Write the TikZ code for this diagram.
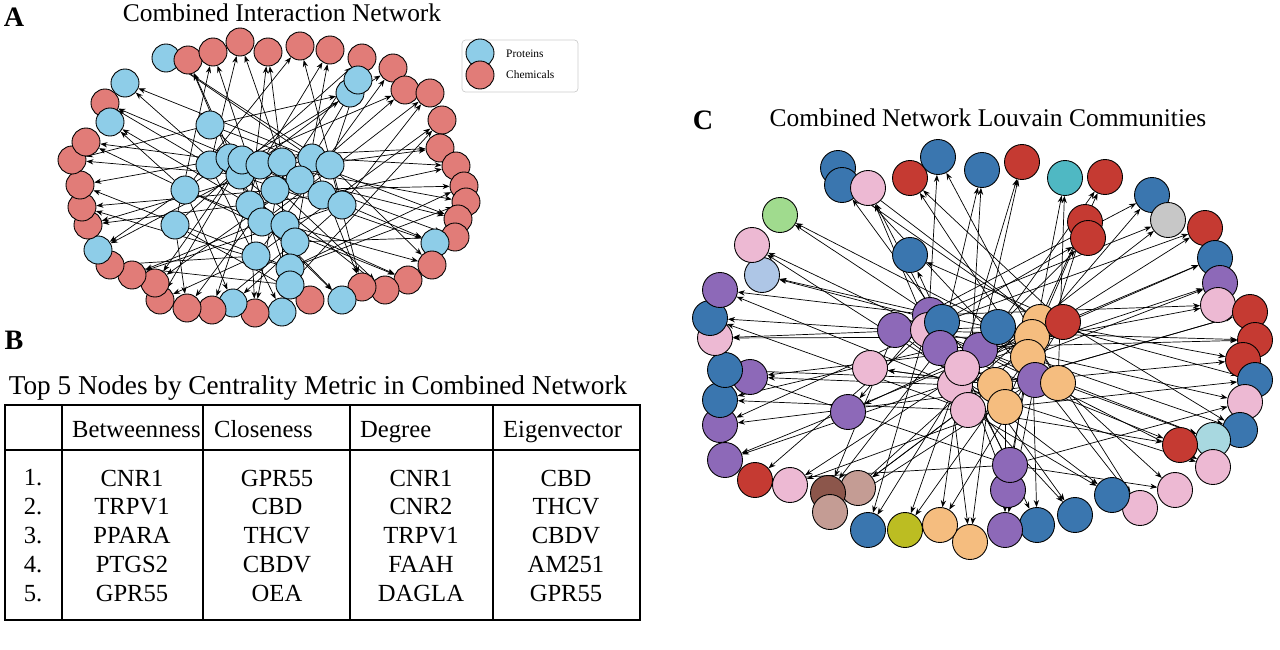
\documentclass[tikz,border=0pt]{standalone}
\usepackage{fontspec}
\setmainfont{Liberation Serif}
\usetikzlibrary{arrows.meta,backgrounds}
\definecolor{ProtBlue}{HTML}{8ECDE8}
\definecolor{ChemRed}{HTML}{E17C78}
\definecolor{CBlue}{HTML}{3A76AF}
\definecolor{CRed}{HTML}{C53A32}
\definecolor{CPink}{HTML}{EDB9D3}
\definecolor{CPurple}{HTML}{8D69B8}
\definecolor{COrange}{HTML}{F5BD7F}
\definecolor{CTeal}{HTML}{4FB8C3}
\definecolor{CGray}{HTML}{C7C7C7}
\definecolor{CGreen}{HTML}{A0DB8E}
\definecolor{CLight}{HTML}{AEC6E6}
\definecolor{CBrown}{HTML}{8C564B}
\definecolor{CTan}{HTML}{C49C94}
\definecolor{COlive}{HTML}{BCBD22}
\definecolor{CCyan}{HTML}{A8D8E0}
\tikzset{
	anode/.style={circle, draw=black, line width=0.5pt, minimum size=0.56cm, inner sep=0pt},
	prot/.style={anode, fill=ProtBlue},
	chem/.style={anode, fill=ChemRed},
	cnode/.style={circle, draw=black, line width=0.5pt, minimum size=0.7cm, inner sep=0pt},
	kb/.style={cnode, fill=CBlue}, kr/.style={cnode, fill=CRed},
	kp/.style={cnode, fill=CPink}, ku/.style={cnode, fill=CPurple},
	ko/.style={cnode, fill=COrange}, kt/.style={cnode, fill=CTeal},
	kg/.style={cnode, fill=CGray}, kG/.style={cnode, fill=CGreen},
	kL/.style={cnode, fill=CLight}, kn/.style={cnode, fill=CBrown},
	kT/.style={cnode, fill=CTan}, ky/.style={cnode, fill=COlive},
	kc/.style={cnode, fill=CCyan},
	edge/.style={-{Stealth[length=4pt,width=3pt]}, line width=0.4pt},
	thickrule/.style={line width=1.6pt},
	heading/.style={font=\fontsize{14.5}{16}\selectfont},
	panel/.style={font=\bfseries\fontsize{16}{18}\selectfont},
	cell/.style={font=\fontsize{14}{16}\selectfont},
}
\begin{document}
\begin{tikzpicture}[x=0.02cm, y=-0.02cm]
	\useasboundingbox (0,0) rectangle (1280,649);
	
	% panel A
	\node[panel] (labA) at (14,17) {A};
	\node[heading] (titleA) at (282,13) {Combined Interaction Network};
	\foreach \n/\x/\y/\k in {1/166/58/prot,2/188/60/chem,3/213/52/chem,4/240/42/chem,5/268/52/chem,6/300/46/chem,
		7/330/50/chem,8/362/58/chem,9/393/68/chem,10/405/90/chem,11/430/93/chem,12/442/120/chem,13/440/148/chem,
		14/456/166/chem,15/464/186/chem,16/466/202/chem,17/458/219/chem,18/455/237/chem,19/435/243/prot,20/432/265/chem,
		21/408/280/chem,22/385/290/chem,23/362/287/chem,24/342/300/prot,25/310/300/chem,26/282/312/prot,27/255/313/chem,
		28/233/303/prot,29/212/310/chem,30/187/308/chem,31/160/300/chem,32/155/283/chem,33/132/275/chem,34/110/265/chem,
		35/98/250/prot,36/88/225/chem,37/82/207/chem,38/80/185/chem,39/72/160/chem,40/86/142/chem,41/105/103/chem,
		42/125/83/prot,43/110/122/prot,44/350/93/prot,45/358/80/prot}
		\node[\k] (ao\n) at (\x,\y) {};
	\foreach \n/\x/\y in {1/210/125,2/210/165,3/230/158,4/240/175,5/242/160,6/260/165,7/282/162,
		8/312/158,9/330/165,10/300/180,11/322/195,12/342/205,13/275/190,14/250/205,15/262/222,
		16/285/225,17/295/242,18/290/268,19/290/285,20/256/256,21/185/190,22/175/225}
		\node[prot] (ai\n) at (\x,\y) {};
	\begin{scope}[on background layer]
		\foreach \k in {1,...,45} {
			\pgfmathtruncatemacro\h{mod(\k*7,22)+1}
			\pgfmathtruncatemacro\j{mod(\k*5+3,22)+1}
			\draw[edge] (ai\h) -- (ao\k);
			\draw[edge] (ai\j) -- (ao\k);
		}
	\end{scope}
	
	% legend
	\draw[rounded corners=2pt, draw=black!20, fill=white] (462,40) rectangle (578,92);
	\node[prot] (legP) at (480,53) {};
	\node[chem] (legC) at (480,75) {};
	\node[anchor=west, font=\fontsize{6.5}{8}\selectfont] (legPt) at (500,54) {Proteins};
	\node[anchor=west, font=\fontsize{6.5}{8}\selectfont] (legCt) at (500,75) {Chemicals};
	
	% panel B
	\node[panel] (labB) at (14,340) {B};
	\node[heading, font=\fontsize{15.5}{17}\selectfont] (titleB) at (318,388) {Top 5 Nodes by Centrality Metric in Combined Network};
	\draw[thickrule] (5,405) rectangle (640,620);
	\draw[thickrule] (5,450) -- (640,450);
	\foreach \x in {62,203,350,493}
		\draw[thickrule] (\x,405) -- (\x,620);
	\foreach \t/\xl [count=\i] in {Betweenness/66,Closeness/208,Degree/354,Eigenvector/497}
		\node[cell, anchor=base west] (head\i) at (\xl,437) {\t};
	\foreach \r/\a/\b/\c/\d [count=\i] in {1./CNR1/GPR55/CNR1/CBD,2./TRPV1/CBD/CNR2/THCV,
		3./PPARA/THCV/TRPV1/CBDV,4./PTGS2/CBDV/FAAH/AM251,5./GPR55/OEA/DAGLA/GPR55} {
		\pgfmathsetmacro\yy{478+28.8*(\i-1)}
		\node[cell] (rk\i) at (33,\yy) {\r};
		\node[cell] (ca\i) at (132,\yy) {\a};
		\node[cell] (cb\i) at (277,\yy) {\b};
		\node[cell] (cc\i) at (421,\yy) {\c};
		\node[cell] (cd\i) at (566,\yy) {\d};
	}
	
	% panel C
	\node[panel] (labC) at (703,120) {C};
	\node[heading] (titleC) at (988,118) {Combined Network Louvain Communities};
	\foreach \n/\x/\y/\k in {1/838/168/kb,2/842/185/kb,3/868/188/kp,4/910/178/kr,5/938/157/kb,6/982/170/kb,
		7/1022/162/kr,8/1065/178/kt,9/1105/177/kr,10/1152/195/kb,11/1168/220/kg,12/1205/228/kr,13/1085/222/kr,
		14/1088/238/kr,15/1215/258/kb,16/1220/283/ku,17/1218/305/kp,18/1250/312/kr,19/1255/340/kr,
		20/1243/360/kr,21/1255/380/kb,22/1245/402/kp,23/1240/430/kb,24/1213/440/kc,25/1180/445/kr,
		26/1213/467/kp,27/1175/490/kp,28/1140/508/kp,29/1112/495/kb,30/1075/515/kb,31/1037/525/kb,
		32/1005/530/ku,33/970/542/ko,34/940/525/ko,35/905/530/ky,36/868/530/kb,37/858/488/kT,38/828/493/kn,
		39/830/512/kT,40/790/485/kp,41/755/480/kr,42/725/460/ku,43/720/425/ku,44/720/400/kb,45/750/377/ku,
		46/725/370/kb,47/715/338/kp,48/710/318/kb,49/720/290/ku,50/762/275/kL,51/752/245/kp,52/780/215/kG,
		53/910/255/kb,54/1008/490/ku,55/848/412/ku,56/870/368/kp}
		\node[\k] (co\n) at (\x,\y) {};
	\foreach \n/\x/\y/\k in {1/895/330/ku,2/930/315/ku,3/928/330/kp,4/942/322/kb,5/940/348/ku,
		6/980/350/ku,7/998/327/kb,8/1040/322/ko,9/1032/337/ko,10/1028/357/ko,11/1063/322/kr,12/955/385/kp,
		13/995/385/ko,14/968/410/kp,15/1005/407/ko,16/1035/380/ku,17/1058/383/ko,18/962/368/kp,19/1010/465/ku}
		\node[\k] (ci\n) at (\x,\y) {};
	\begin{scope}[on background layer]
		\foreach \k in {1,...,56} {
			\pgfmathtruncatemacro\h{mod(\k*7,19)+1}
			\pgfmathtruncatemacro\j{mod(\k*11+4,19)+1}
			\draw[edge] (ci\h) -- (co\k);
			\draw[edge] (ci\j) -- (co\k);
		}
	\end{scope}
\end{tikzpicture}
\end{document}
